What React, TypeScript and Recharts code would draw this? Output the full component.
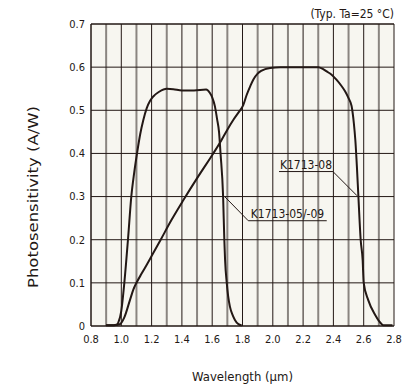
import React from "react";
import {
  LineChart, Line, XAxis, YAxis, CartesianGrid, ReferenceLine, Label,
} from "recharts";

// K1713-05/-09 (InGaAs) spectral response
const waveA = [0.9, 0.95, 0.97, 0.98, 1.0, 1.02, 1.044, 1.066, 1.085, 1.106, 1.125, 1.145, 1.168, 1.19, 1.211, 1.25, 1.3, 1.343, 1.4, 1.48, 1.56, 1.585, 1.6, 1.618, 1.632, 1.645, 1.655, 1.672, 1.68, 1.685, 1.696, 1.705, 1.717, 1.735, 1.75, 1.77, 1.795];
const sensA = [0.002, 0.002, 0.003, 0.008, 0.035, 0.1, 0.2, 0.3, 0.355, 0.405, 0.445, 0.477, 0.505, 0.522, 0.532, 0.543, 0.55, 0.549, 0.546, 0.546, 0.548, 0.54, 0.53, 0.509, 0.48, 0.45, 0.4, 0.3, 0.2, 0.153, 0.1, 0.07, 0.045, 0.025, 0.014, 0.005, 0.001];

// K1713-08 (extended InGaAs) spectral response
const waveB = [0.9, 0.95, 0.99, 1.02, 1.057, 1.08, 1.1, 1.135, 1.168, 1.2, 1.26, 1.33, 1.41, 1.51, 1.607, 1.66, 1.7, 1.74, 1.78, 1.805, 1.828, 1.85, 1.871, 1.9, 1.927, 1.982, 2.05, 2.114, 2.2, 2.3, 2.33, 2.356, 2.39, 2.42, 2.45, 2.477, 2.5, 2.52, 2.535, 2.545, 2.555, 2.565, 2.58, 2.593, 2.6, 2.63, 2.675, 2.7, 2.73, 2.79];
const sensB = [0.002, 0.002, 0.004, 0.02, 0.06, 0.085, 0.1, 0.122, 0.142, 0.162, 0.2, 0.245, 0.292, 0.348, 0.4, 0.43, 0.455, 0.478, 0.498, 0.512, 0.536, 0.555, 0.571, 0.585, 0.592, 0.598, 0.6, 0.6, 0.6, 0.6, 0.596, 0.59, 0.582, 0.571, 0.558, 0.544, 0.528, 0.51, 0.47, 0.43, 0.37, 0.3, 0.2, 0.153, 0.1, 0.06, 0.026, 0.012, 0.002, 0.002];

const xTicks = [0.8, 1.0, 1.2, 1.4, 1.6, 1.8, 2.0, 2.2, 2.4, 2.6, 2.8];
const xMinor = [0.9, 1.1, 1.3, 1.5, 1.7, 1.9, 2.1, 2.3, 2.5, 2.7];
const yTicks = [0, 0.1, 0.2, 0.3, 0.4, 0.5, 0.6, 0.7];
const X_DOMAIN = [0.8, 2.8];

// annotation labels: underline y, underline x range, curve point the leader goes to
const labelNames = ["K1713-08", "K1713-05/-09"];
const underlineY = [0.358, 0.244];
const underlineX = [[2.041, 2.397], [1.838, 2.356]];
const leaderTo = [[2.556, 0.302], [1.685, 0.299]];

const dataA = waveA.map((w, i) => ({ w, v: sensA[i] }));
const dataB = waveB.map((w, i) => ({ w, v: sensB[i] }));

const INK = "#231815";
const FONT = "'DejaVu Sans Condensed', 'DejaVu Sans', sans-serif";

// gray minor verticals, through the x axis scale when available
// eslint-disable-next-line @typescript-eslint/no-explicit-any
function minorVerticals({ xAxis, offset }: any) {
  const s = xAxis?.scale;
  if (typeof s === "function") return xMinor.map((v) => s(v));
  return xMinor.map(
    (v) => offset.left + ((v - X_DOMAIN[0]) / (X_DOMAIN[1] - X_DOMAIN[0])) * offset.width,
  );
}

export default function App() {
  return (
    <div style={{ position: "absolute", left: 0, top: 0, width: 417, height: 390, background: "#fff" }}>
      <div style={{
        position: "absolute", right: 23, top: 7, fontFamily: FONT, fontSize: 12, color: INK,
        lineHeight: "14px",
      }}>
        (Typ. Ta=25 °C)
      </div>
      <LineChart width={417} height={390} margin={{ top: 24, right: 23, bottom: 0, left: 0 }}>
        <CartesianGrid horizontal={false} stroke="#8a8580" strokeWidth={2} fill="#f7f6f0"
          verticalCoordinatesGenerator={minorVerticals} />
        <CartesianGrid vertical={false} stroke={INK} strokeWidth={1} />
        <XAxis
          dataKey="w" type="number" domain={X_DOMAIN} ticks={xTicks} height={64}
          tickLine={false} axisLine={{ stroke: INK }} tickMargin={3}
          tickFormatter={(v: number) => v.toFixed(1)}
          tick={{ fill: INK, fontSize: 11, fontFamily: FONT }}
        >
          <Label
            content={({ viewBox }: any) => (
              <text x={viewBox.x + viewBox.width / 2} y={381} textAnchor="middle"
                fontFamily={FONT} fontSize={13} fill={INK}>
                Wavelength (µm)
              </text>
            )}
          />
        </XAxis>
        <YAxis
          type="number" domain={[0, 0.7]} ticks={yTicks} width={91}
          tickLine={false} axisLine={{ stroke: INK }} tickMargin={0}
          tick={{ fill: INK, fontSize: 11, fontFamily: FONT }}
        >
          <Label
            content={() => (
              <text x={33} y={197} transform="rotate(-90, 33, 197)" textAnchor="middle"
                dominantBaseline="central" fontFamily="'DejaVu Sans', sans-serif"
                fontSize={14} fill={INK} textLength={182} lengthAdjust="spacingAndGlyphs">
                Photosensitivity (A/W)
              </text>
            )}
          />
        </YAxis>
        {xTicks.map((t) => (
          <ReferenceLine key={"gx" + t} x={t} stroke={INK} strokeWidth={1} />
        ))}
        <ReferenceLine y={0.7} stroke={INK} />
        <Line data={dataA} dataKey="v" type="monotone" stroke={INK} strokeWidth={2}
          dot={false} isAnimationActive={false} />
        <Line data={dataB} dataKey="v" type="monotone" stroke={INK} strokeWidth={2}
          dot={false} isAnimationActive={false} />
        {labelNames.map((name, i) => (
          <ReferenceLine
            key={name + "u"}
            segment={[{ x: underlineX[i][0], y: underlineY[i] }, { x: underlineX[i][1], y: underlineY[i] }]}
            stroke={INK} strokeWidth={1}
          >
            <Label
              content={({ viewBox }: any) => (
                <text x={viewBox.x + viewBox.width / 2} y={viewBox.y - 3} textAnchor="middle"
                  fontFamily={FONT} fontSize={12} fill={INK}>
                  {name}
                </text>
              )}
            />
          </ReferenceLine>
        ))}
        {labelNames.map((name, i) => (
          <ReferenceLine
            key={name + "l"}
            segment={[
              { x: underlineX[i][i === 0 ? 1 : 0], y: underlineY[i] },
              { x: leaderTo[i][0], y: leaderTo[i][1] },
            ]}
            stroke={INK} strokeWidth={1}
          />
        ))}
      </LineChart>
    </div>
  );
}
